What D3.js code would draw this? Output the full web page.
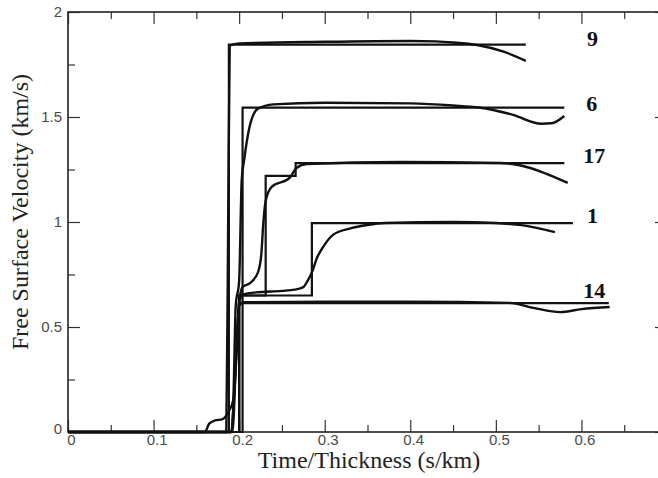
<!DOCTYPE html>
<html lang="en">
<head>
<meta charset="utf-8"/>
<title>Free surface velocity</title>
<script src="https://cdnjs.cloudflare.com/ajax/libs/d3/7.8.5/d3.min.js"></script>
<style>
  body { margin: 0; background: white; }
  svg { display: block; }
  .tick text { font-family: "Liberation Sans", Arial, sans-serif; font-size: 15px; fill: #4a4a4a; }
  .tick line { stroke: #333; stroke-width: 1.2; }
  .domain { display: none; }
  .title { font-family: "Liberation Serif", "Times New Roman", serif; font-size: 24px; fill: #222; }
  .lab { font-family: "Liberation Serif", "Times New Roman", serif; font-size: 22px; font-weight: bold; fill: #111; }
</style>
</head>
<body>
<div id="chart"></div>
<script>
// series names, in the order they are labelled on the right
var names = ["9", "6", "17", "1", "14"];

// step (model) lines: [time/thickness, velocity]
var model9  = [[0,0],[0.188,0],[0.188,1.845],[0.535,1.845]];
var model6  = [[0,0],[0.204,0],[0.204,1.545],[0.58,1.545]];
var model17 = [[0,0],[0.2,0],[0.2,0.65],[0.231,0.65],[0.231,1.22],[0.266,1.22],[0.266,1.28],[0.58,1.28]];
var model1  = [[0,0],[0.2,0],[0.2,0.65],[0.285,0.65],[0.285,0.995],[0.59,0.995]];
var model14 = [[0,0],[0.2,0],[0.2,0.614],[0.632,0.614]];

// measured curves
var meas9  = [[0,0],[0.185,0],[0.187,0.9],[0.189,1.84],[0.2,1.85],[0.3,1.858],[0.4,1.862],[0.43,1.86],[0.45,1.855],[0.478,1.843],[0.51,1.81],[0.535,1.767]];
var meas6  = [[0,0],[0.16,0],[0.165,0.04],[0.172,0.055],[0.18,0.06],[0.188,0.1],[0.193,0.15],[0.196,0.6],[0.2,0.72],[0.203,1.2],[0.206,1.3],[0.212,1.45],[0.222,1.54],[0.24,1.56],[0.3,1.568],[0.4,1.565],[0.45,1.555],[0.48,1.545],[0.52,1.51],[0.553,1.468],[0.565,1.47],[0.58,1.505]];
var meas17 = [[0,0],[0.19,0],[0.196,0.3],[0.2,0.62],[0.204,0.69],[0.213,0.71],[0.222,0.76],[0.226,0.85],[0.228,0.98],[0.231,1.1],[0.238,1.167],[0.259,1.21],[0.267,1.257],[0.279,1.276],[0.388,1.286],[0.505,1.281],[0.528,1.27],[0.557,1.233],[0.584,1.186]];
var meas1  = [[0,0],[0.19,0],[0.197,0.4],[0.2,0.62],[0.205,0.655],[0.22,0.665],[0.25,0.672],[0.265,0.678],[0.275,0.69],[0.28,0.72],[0.286,0.77],[0.29,0.82],[0.298,0.88],[0.31,0.94],[0.33,0.97],[0.35,0.986],[0.37,0.995],[0.45,1.0],[0.5,0.995],[0.53,0.985],[0.569,0.952]];
var meas14 = [[0,0],[0.192,0],[0.197,0.4],[0.2,0.6],[0.205,0.618],[0.3,0.62],[0.4,0.62],[0.516,0.615],[0.545,0.59],[0.575,0.571],[0.6,0.585],[0.633,0.595]];

var models = [model9, model6, model17, model1, model14];
var measured = [meas9, meas6, meas17, meas1, meas14];
// right hand label positions: [time, velocity]
var labelPos = [[0.613,1.84],[0.612,1.53],[0.615,1.28],[0.613,0.995],[0.615,0.64]];

var xMajor = [0,0.1,0.2,0.3,0.4,0.5,0.6];
var xMinor = [0.05,0.15,0.25,0.35,0.45,0.55,0.65];
var yMajor = [0,0.5,1,1.5,2];
var yMinor = [0.25,0.75,1.25,1.75];

var W = 658, H = 478;
var padL = 68, padT = 12, padR = 667, padB = 432;

var svg = d3.select("#chart").append("svg").attr("width", W).attr("height", H);

var x = d3.scaleLinear().domain([0, 0.7]).range([padL, padR]);
var y = d3.scaleLinear().domain([0, 2]).range([padB, padT]);

// axes, ticks pointing inward
svg.append("g").attr("transform", "translate(0," + padB + ")")
  .call(d3.axisBottom(x).tickValues(xMajor).tickSize(-12).tickSizeOuter(0).tickPadding(2)
    .tickFormat(function(d){ return d === 0 ? "0" : d3.format(".1f")(d); }))
  .selectAll("text").attr("dx", 3);
svg.append("g").attr("transform", "translate(0," + padB + ")")
  .call(d3.axisBottom(x).tickValues(xMinor).tickSize(-7).tickSizeOuter(0).tickFormat(""));
svg.append("g").attr("transform", "translate(0," + padT + ")")
  .call(d3.axisTop(x).tickValues(xMajor).tickSize(-12).tickSizeOuter(0).tickFormat(""));
svg.append("g").attr("transform", "translate(0," + padT + ")")
  .call(d3.axisTop(x).tickValues(xMinor).tickSize(-7).tickSizeOuter(0).tickFormat(""));

svg.append("g").attr("transform", "translate(" + padL + ",0)")
  .call(d3.axisLeft(y).tickValues(yMajor).tickSize(-12).tickSizeOuter(0).tickPadding(6)
    .tickFormat(function(d){ return d3.format("")(d); }))
  .selectAll("text").attr("dy", function(d){ return d === 0 ? "0.1em" : "0.32em"; });
svg.append("g").attr("transform", "translate(" + padL + ",0)")
  .call(d3.axisLeft(y).tickValues(yMinor).tickSize(-7).tickSizeOuter(0).tickFormat(""));
svg.append("g").attr("transform", "translate(" + padR + ",0)")
  .call(d3.axisRight(y).tickValues(yMajor).tickSize(-12).tickSizeOuter(0).tickFormat(""));
svg.append("g").attr("transform", "translate(" + padR + ",0)")
  .call(d3.axisRight(y).tickValues(yMinor).tickSize(-7).tickSizeOuter(0).tickFormat(""));

// frame
svg.append("rect")
  .attr("x", padL).attr("y", padT)
  .attr("width", padR - padL).attr("height", padB - padT)
  .attr("fill", "none").attr("stroke", "#222").attr("stroke-width", 1.6);

var stepLine = d3.line().x(function(d){ return x(d[0]); }).y(function(d){ return y(d[1]); });
var smoothLine = d3.line().x(function(d){ return x(d[0]); }).y(function(d){ return y(d[1]); })
  .curve(d3.curveMonotoneX);

svg.append("g").selectAll("path.model")
  .data(models).enter().append("path")
  .attr("class", "model")
  .attr("d", stepLine)
  .attr("fill", "none").attr("stroke", "#111").attr("stroke-width", 2.2);

svg.append("g").selectAll("path.meas")
  .data(measured).enter().append("path")
  .attr("class", "meas")
  .attr("d", smoothLine)
  .attr("fill", "none").attr("stroke", "#111").attr("stroke-width", 2.4)
  .attr("stroke-linejoin", "round");

svg.append("g").selectAll("text.lab")
  .data(names).enter().append("text")
  .attr("class", "lab")
  .attr("x", function(d, i){ return x(labelPos[i][0]); })
  .attr("y", function(d, i){ return y(labelPos[i][1]); })
  .attr("text-anchor", "middle")
  .text(function(d){ return d; });

// axis titles
svg.append("text").attr("class", "title")
  .attr("x", 369).attr("y", 468)
  .attr("text-anchor", "middle")
  .text("Time/Thickness (s/km)");
svg.append("text").attr("class", "title")
  .attr("transform", "translate(28,212) rotate(-90)")
  .attr("text-anchor", "middle")
  .text("Free Surface Velocity (km/s)");
</script>
</body>
</html>
